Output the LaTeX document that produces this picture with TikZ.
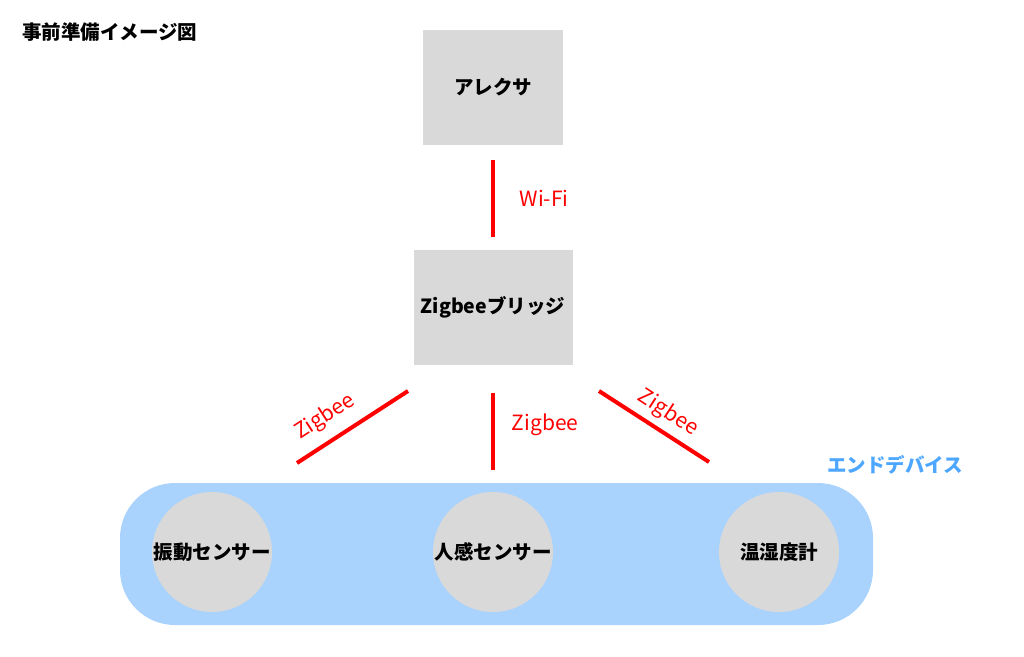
\documentclass[tikz,border=0pt]{standalone}
\usepackage{fontspec}
\setmainfont{Noto Sans CJK JP}
\usepackage{xcolor}
\usepackage{tikz}
\usetikzlibrary{positioning}

\definecolor{caixa}{HTML}{D9D9D9}
\definecolor{faixa}{HTML}{A9D3FD}
\definecolor{azul}{HTML}{4DA6FF}
\definecolor{linha}{HTML}{FF0000}

\begin{document}
\begin{tikzpicture}[
		    x=1pt, y=-1pt,
		    every node/.style={font=\fontsize{19.5}{23}\selectfont\bfseries, inner sep=0pt}
		]
		\tikzset{
		    caixacinza/.style={fill=caixa, minimum width=140pt, minimum height=115pt},
		    sensor/.style={circle, fill=caixa, minimum size=120pt},
		    enlace/.style={draw=linha, line width=4pt},
		    rotulo/.style={text=linha, font=\fontsize{21}{25}\selectfont}
		}
		\useasboundingbox (0,0) rectangle (1024,656);
		\node[anchor=west] (titulo) at (22,32) {事前準備イメージ図};
		\node[caixacinza] (alexa) at (493,87.5) {アレクサ};
		\node[caixacinza, minimum width=159pt] (ponte) at (493,307.5) {Zigbeeブリッジ};
		\node[fill=faixa, rounded corners=55pt, minimum width=753pt, minimum height=142pt] (faixa) at (496.5,554) {};
		\node[sensor] (vibra) at (212,552) {振動センサー};
		\node[sensor] (presenca) at (493,552) {人感センサー};
		\node[sensor] (temp) at (779,552) {温湿度計};
		\node[text=azul] (fim) at (895,465) {エンドデバイス};
		\draw[enlace, shorten <=15pt, shorten >=13pt] (alexa) -- (ponte);
		\node[rotulo] (wifi) at (544,198) {Wi-Fi};
		\coordinate (esq1) at (408,391);
		\coordinate (esq2) at (297,463);
		\coordinate (dir1) at (599,391);
		\coordinate (dir2) at (709,462);
		\draw[enlace] (esq1) -- (esq2);
		\draw[enlace, shorten <=28pt, shorten >=22pt] (ponte.south) -- (presenca.north);
		\draw[enlace] (dir1) -- (dir2);
		\node[rotulo, rotate=33] (zesq) at (325,417) {Zigbee};
		\node[rotulo] (zmeio) at (545,425) {Zigbee};
		\node[rotulo, rotate=-33] (zdir) at (668,413) {Zigbee};
		\end{tikzpicture}
\end{document}
